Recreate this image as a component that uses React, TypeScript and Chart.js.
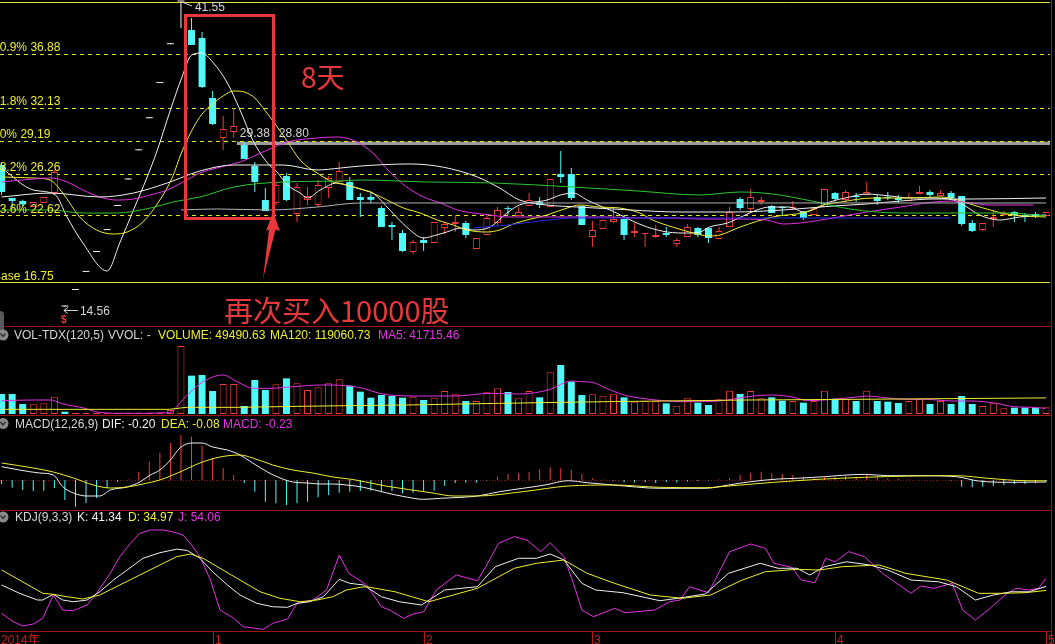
import React, { useEffect, useRef } from 'react';
import { Chart, registerables } from 'chart.js';

Chart.register(...registerables);

// ================= DATA =================
const OPEN = [
  27.08, 24.16, 23.9, 23.36, 23.72, 24.6, 14.56, 16.02, 17.62, 19.38,
  21.32, 23.45, 25.8, 28.38, 31.22, 34.34, 37.77, 41.55, 39.03, 38.32,
  33.01, 29.47, 30.0, 28.85, 27.0, 23.98, 23.72, 26.1, 22.74, 23.98,
  23.54, 25.04, 25.58, 25.58, 24.25, 24.25, 23.27, 21.77, 21.06, 19.38,
  20.44, 20.18, 21.5, 21.86, 21.95, 19.65, 20.89, 21.95, 23.27, 22.56,
  23.45, 23.8, 23.36, 26.28, 26.28, 23.45, 20.71, 21.41, 22.03, 22.3,
  21.06, 20.98, 20.71, 21.06, 20.09, 20.71, 21.5, 21.5, 20.53, 21.59,
  24.07, 23.18, 23.8, 23.45, 23.36, 23.23, 22.92, 22.65, 23.36, 24.6,
  23.98, 24.34, 24.42, 24.25, 24.25, 24.16, 23.89, 24.51, 24.69, 24.34,
  24.6, 24.34, 21.95, 21.33, 22.3, 22.65, 22.92, 22.65, 22.74, 22.56,
];
const HIGH = [
  27.35, 24.16, 24.0, 23.8, 24.25, 26.64, 14.56, 16.02, 17.62, 19.38,
  21.32, 23.45, 25.8, 28.38, 31.22, 34.34, 37.77, 41.55, 40.09, 38.85,
  33.63, 31.42, 32.12, 29.12, 27.35, 25.05, 25.49, 26.37, 25.49, 25.13,
  25.75, 26.1, 27.35, 26.02, 24.6, 24.6, 23.45, 22.03, 21.33, 20.44,
  20.71, 22.03, 22.03, 22.65, 22.12, 20.62, 22.65, 23.36, 23.45, 23.36,
  24.6, 24.25, 25.84, 28.32, 26.81, 23.45, 22.12, 22.21, 23.36, 22.65,
  21.95, 21.06, 21.77, 21.59, 20.62, 21.86, 21.59, 21.59, 21.59, 23.36,
  24.25, 24.95, 24.25, 23.54, 23.45, 23.89, 23.01, 23.27, 24.95, 24.69,
  24.87, 24.6, 25.58, 24.42, 24.69, 24.42, 24.6, 25.22, 24.87, 24.87,
  24.78, 24.34, 22.21, 21.95, 23.1, 23.01, 23.01, 22.83, 22.92, 22.92,
];
const LOW = [
  24.42, 23.36, 23.4, 23.36, 23.72, 24.5, 14.56, 16.02, 17.62, 19.38,
  21.32, 23.45, 25.8, 28.38, 31.22, 34.34, 37.77, 39.2, 37.7, 33.9,
  30.62, 28.41, 29.47, 27.61, 24.69, 23.0, 23.54, 23.9, 22.03, 23.54,
  23.36, 24.16, 25.58, 23.98, 22.47, 23.72, 21.59, 20.44, 19.38, 19.2,
  19.47, 20.18, 20.96, 21.15, 20.62, 19.65, 20.89, 21.77, 22.65, 22.56,
  23.45, 23.27, 23.36, 25.49, 23.98, 21.77, 19.82, 21.41, 21.95, 20.44,
  20.71, 19.82, 20.62, 20.71, 19.82, 20.71, 20.71, 20.18, 20.53, 21.59,
  23.1, 22.83, 23.54, 22.83, 22.65, 23.1, 22.21, 22.65, 23.36, 23.8,
  23.8, 23.8, 24.42, 23.54, 23.98, 23.72, 23.89, 24.51, 24.25, 24.34,
  24.16, 21.68, 21.15, 21.24, 21.59, 22.56, 22.03, 22.03, 22.39, 22.56,
];
const CLOSE = [
  24.69, 23.89, 23.6, 23.8, 24.25, 26.46, 14.56, 16.02, 17.62, 19.38,
  21.32, 23.45, 25.8, 28.38, 31.22, 34.34, 37.77, 41.55, 37.7, 33.98,
  30.71, 30.27, 30.53, 27.61, 25.58, 23.0, 25.31, 23.98, 25.13, 24.34,
  25.31, 25.93, 26.55, 23.98, 23.98, 24.0, 21.59, 21.59, 19.47, 20.27,
  20.18, 22.03, 21.86, 22.03, 20.89, 20.62, 22.39, 23.1, 23.18, 22.92,
  23.98, 23.54, 25.84, 26.02, 24.16, 21.77, 21.33, 22.21, 22.3, 20.89,
  21.24, 21.06, 20.89, 20.89, 20.44, 21.59, 20.89, 20.62, 21.24, 22.92,
  23.27, 24.25, 23.98, 22.83, 23.27, 23.36, 22.39, 23.27, 24.95, 24.07,
  24.69, 24.25, 24.69, 23.89, 24.16, 23.98, 24.25, 24.69, 24.42, 24.6,
  24.16, 21.86, 21.24, 21.95, 22.47, 22.83, 22.65, 22.47, 22.56, 22.92,
];
const VOLUME = [
  148000, 148000, 74000, 71500, 79000, 128300, 17300, 7400, 7400, 7400,
  7400, 7400, 7400, 7400, 7400, 7400, 29600, 503300, 283700, 288600,
  170200, 222000, 222000, 59200, 251600, 177600, 219600, 264000, 227000, 177600,
  197400, 227000, 256600, 209700, 165300, 120900, 140600, 133200, 120900, 128300,
  103600, 120900, 170200, 145600, 96200, 96200, 160400, 190000, 162800, 115900,
  170200, 123400, 308400, 362600, 239300, 140600, 145600, 135700, 145600, 123400,
  91300, 96200, 96200, 78900, 61700, 115900, 83900, 66600, 108500, 172700,
  148000, 170200, 115900, 123400, 98700, 96200, 83900, 96200, 172700, 113500,
  108500, 96200, 172700, 96200, 91300, 81400, 96200, 111000, 74000, 96200,
  74000, 133200, 74000, 59200, 78900, 41900, 46900, 46900, 46900, 49490.63,
];

// moving-average curves of the price panel: [day index, price]
const MA5_PTS = [
  [0, 26.82], [3.0, 24.87], [5.1, 24.43], [6.2, 22.48], [7.7, 20.18], [10.0, 17.7], [11.2, 20.18],
  [12.5, 23.1], [13.8, 26.02], [14.7, 28.23], [16.0, 31.95], [17.1, 34.87], [18.0, 36.81], [19.0, 36.99],
  [20.0, 36.2], [21.4, 34.34], [22.6, 31.95], [23.8, 29.29], [25.2, 27.26], [26.1, 26.46], [27.1, 25.31],
  [28.3, 24.6], [29.0, 24.16], [30.2, 24.87], [31.8, 25.49], [33.0, 25.22], [34.3, 24.87], [35.2, 24.6],
  [36.8, 23.1], [38.4, 21.59], [40.0, 20.62], [40.9, 20.8], [42.2, 21.15], [43.5, 21.5], [44.7, 21.33],
  [46.3, 21.59], [47.9, 22.83], [49.1, 23.54], [51.7, 23.98], [53.0, 24.43], [54.2, 24.6], [55.5, 23.98],
  [57.0, 23.36], [58.3, 22.83], [59.6, 22.21], [61.2, 21.59], [63.1, 21.15], [65.0, 21.06], [66.2, 21.15],
  [67.1, 21.59], [68.8, 21.95], [70.3, 22.57], [71.6, 23.1], [72.8, 23.36], [74.7, 23.36], [76.0, 22.92],
  [77.3, 23.27], [78.5, 23.8], [80.4, 24.25], [82.0, 24.51], [84.2, 24.34], [86.1, 24.16], [88.0, 24.16],
  [90.2, 23.98], [91.5, 23.36], [92.7, 22.66], [94.6, 22.21], [96.5, 22.48], [99, 22.66],
];
const MA10_PTS = [
  [0, 26.02], [3.0, 25.93], [4.6, 25.75], [5.8, 24.6], [7.4, 22.48], [9.0, 21.33], [10.6, 20.97],
  [11.9, 21.15], [13.4, 22.04], [15.0, 23.98], [16.2, 26.02], [17, 28.05], [18, 30.09], [19, 31.59],
  [20, 32.48], [21, 33.19], [22, 33.63], [23, 33.54], [24, 33.01], [25, 31.86], [26, 30.62], [27, 29.29],
  [28.3, 27.52], [29.9, 26.37], [31.4, 25.58], [32.7, 25.31], [34.9, 24.69], [36.5, 24.0], [38.1, 23.27],
  [39.7, 22.83], [41.3, 22.21], [42.8, 21.77], [44.1, 21.33], [46.0, 21.15], [47.2, 21.33], [48.5, 21.86],
  [49.8, 22.21], [51.7, 22.66], [53.6, 23.27], [54.8, 23.54], [56.7, 23.36], [58.6, 23.27], [60.5, 22.83],
  [61.7, 22.21], [63.6, 21.59], [65.2, 21.15], [67.1, 20.8], [68.1, 20.89], [70.0, 21.59], [73.1, 22.48],
  [76.3, 22.92], [77.9, 23.54], [79.5, 23.8], [82.6, 24.16], [85.8, 24.16], [89.0, 24.25], [90.6, 23.98],
  [92.1, 23.54], [93.7, 23.1], [95.3, 22.74], [96.8, 22.57], [99, 22.48],
];
const MA20_PTS = [
  [0, 25.58], [3.0, 25.84], [4.6, 25.93], [6.2, 25.58], [7.7, 24.87], [9.3, 24.25], [10.9, 23.98],
  [12.5, 24.07], [14.1, 24.43], [15.7, 24.87], [17.2, 25.58], [18.8, 26.37], [20.4, 26.81], [22.6, 27.35],
  [25.2, 28.41], [27.1, 29.12], [29.9, 29.47], [31.8, 29.56], [33.0, 29.38], [33.7, 29.12], [35.2, 28.14],
  [36.8, 26.46], [38.4, 25.13], [40.0, 24.25], [41.6, 23.72], [43.2, 23.1], [44.7, 22.83], [46.3, 22.66],
  [47.9, 22.48], [51.0, 22.48], [54.2, 22.48], [57.4, 22.48], [60.5, 22.39], [63.6, 22.39], [66.2, 22.3],
  [69.3, 22.3], [72.5, 22.21], [74.1, 21.86], [75.7, 21.95], [78.8, 22.39], [82.0, 22.92], [85.2, 23.36],
  [88.3, 23.8], [90.2, 23.89], [91.8, 23.72], [93.7, 23.54], [97.8, 23.54],
];
const MA30_PTS = [
  [0, 24.25], [4.6, 24.6], [9.3, 24.25], [12.5, 24.6], [15.7, 25.49], [18.8, 26.55], [22.0, 27.08],
  [26.7, 27.08], [29.9, 26.64], [32.1, 26.81], [34.0, 26.99], [38.7, 27.17], [41.8, 26.9], [45.1, 26.02],
  [47.2, 25.05], [49.1, 23.98], [51.7, 23.54], [54.6, 23.36], [59.6, 23.1], [64.2, 22.92], [69.3, 22.92],
  [74.1, 23.1], [78.8, 23.45], [82.0, 23.63], [85.2, 23.89], [88.3, 24.07], [91.8, 24.07], [99, 24.16],
];
const MA60_PTS = [
  [0, 23.1], [4.6, 23.1], [7.7, 22.83], [10.9, 22.83], [14.1, 23.27], [16.2, 23.8], [18.8, 24.25],
  [22.0, 25.13], [26.7, 25.58], [31.8, 25.66], [34.0, 25.75], [40.3, 25.58], [46.6, 25.49], [54.2, 25.13],
  [60, 24.8], [66.2, 24.43], [70.0, 24.69], [73.1, 24.51], [77.3, 23.8], [80.4, 23.19], [85.2, 22.83],
  [91.5, 22.83], [95.3, 22.83], [99, 22.57],
];
const MA120_PTS = [
  [17, 23.1], [20.4, 23.19], [25.4, 23.1], [29.9, 23.36], [34.0, 23.72], [49.1, 23.72], [66, 23.72], [99, 23.72],
];
const MA250_PTS = [
  [44.7, 21.5], [47.9, 21.77], [51.0, 22.12], [54.2, 22.39], [65, 22.39], [74, 22.39], [90, 22.39],
];

// volume panel averages
const VOL_MA5_PTS = [
  [0, 98700], [3.1, 103600], [4.7, 103600], [5.6, 78900], [7.9, 41900], [8.9, 17300], [11, 4900],
  [15.9, 9900], [16.6, 54300], [17.3, 115900], [19.1, 239300], [21, 288600], [22.3, 239300], [23.9, 190000],
  [25.4, 190000], [27.7, 202300], [30.3, 214600], [33.5, 202300], [36.7, 140600], [39.9, 133200],
  [43.1, 133200], [46.3, 153000], [49, 148000], [50.6, 157900], [52, 182600], [54, 244200], [54.9, 239300],
  [56, 234400], [57.3, 190000], [59, 140600], [60.7, 115900], [62.7, 98700], [64.7, 91300], [66.7, 91300],
  [68.8, 103600], [70.7, 128300], [73.1, 140600], [75.1, 123400], [76.4, 98700], [78.8, 108500],
  [80.8, 123400], [82.1, 133200], [83.4, 123400], [85.8, 108500], [87.5, 108500], [90.2, 96200],
  [91.9, 96200], [94.3, 78900], [95.9, 54300], [97.6, 49300], [99, 41715.46],
];
const VOL_MA120_PTS = [
  [0, 34500], [15.9, 34500], [17.5, 49300], [22.3, 49300], [30.3, 59200], [38.3, 66600],
  [47.2, 78900], [57.3, 91300], [70.7, 103600], [80.8, 108500], [99, 119060.73],
];

// MACD panel
const MACD_HIST = [
  -0.4, -0.77, -1.0, -1.1, -1.07, -0.8, -2.0, -2.67, -2.3, -1.8,
  -0.8, -0.2, 0.05, 0.83, 1.83, 2.73, 3.7, 4.5, 4.33, 3.4,
  2.2, 1.2, 0.5, -0.3, -1.17, -2.17, -2.33, -2.5, -2.33, -2.17,
  -1.73, -1.5, -1.27, -1.17, -1.1, -1.07, -1.17, -1.1, -1.33, -1.27,
  -1.17, -1.07, -0.6, -0.3, -0.27, -0.27, -0.05, 0.33, 0.6, 0.67,
  0.83, 1.07, 1.27, 1.17, 1.0, 0.6, 0.17, 0.05, -0.05, -0.2,
  -0.25, -0.2, -0.3, -0.2, -0.25, -0.15, -0.1, -0.05, 0.05, 0.2,
  0.5, 0.73, 0.83, 0.67, 0.6, 0.5, 0.33, 0.17, 0.33, 0.33,
  0.4, 0.33, 0.5, 0.33, 0.17, 0.1, 0.04, 0.03, 0.02, 0.01,
  -0.05, -0.67, -0.73, -0.67, -0.6, -0.5, -0.4, -0.4, -0.33, -0.23,
];
const DIF_PTS = [
  [0, 1.33], [1.7, 1.0], [3.6, 0.7], [4.9, 0.5], [5.8, -0.67], [6.8, -1.3], [8.1, -1.6], [9.3, -1.6],
  [10.3, -1.0], [11.9, -0.7], [13.1, -0.2], [14.1, 0.5], [15, 1.0], [16, 2.0], [16.9, 3.2], [18, 3.7],
  [19, 3.7], [20, 3.3], [21.4, 3.0], [22.6, 2.5], [23.8, 1.7], [25.2, 0.8], [26.4, 0.2], [27.6, -0.2],
  [29, -0.3], [30.2, -0.4], [31.4, -0.4], [32.7, -0.5], [34.3, -0.73], [36.4, -1.27], [38.5, -1.73],
  [40, -1.93], [41.6, -1.83], [45.1, -1.6], [47.2, -1.17], [49.4, -0.83], [51.5, -0.5], [53.7, -0.07],
  [55.5, -0.27], [58, -0.5], [62.4, -0.83], [66.7, -0.83], [68.9, -0.5], [71, -0.17], [73.6, 0.1],
  [75.4, 0.17], [78, 0.33], [79.7, 0.47], [81.8, 0.57], [84, 0.43], [87.4, 0.43], [90.5, 0.33],
  [92.6, -0.1], [95.7, -0.23], [99, -0.2],
];
const DEA_PTS = [
  [0, 1.7], [3, 1.2], [4.9, 0.8], [6.8, 0.2], [8.7, -0.5], [10.3, -0.8], [11.9, -0.7], [13.4, -0.4],
  [15, 0], [16.9, 0.8], [18.8, 1.7], [20.7, 2.3], [22.6, 2.5], [23.8, 2.2], [25.7, 1.5], [27.6, 1.0],
  [29.5, 0.7], [31.4, 0.3], [33.3, 0.05], [36.4, -0.6], [40.7, -1.27], [42.9, -1.6], [45.1, -1.6],
  [49.4, -1.17], [53.7, -0.6], [58, -0.5], [62.4, -0.73], [66.7, -0.77], [68.9, -0.6], [73.2, -0.23],
  [77.5, 0.07], [81.8, 0.27], [86.2, 0.4], [90.5, 0.43], [93.5, 0.17], [97, -0.07], [99, -0.08],
];

// KDJ panel
const K_PTS = [
  [0, 43.4], [1.7, 30.5], [3.4, 20.0], [3.9, 20.0], [4.9, 28.9], [5.8, 20.0], [6.8, 17.3], [8.1, 20.0],
  [9.3, 32.9], [10.6, 51.2], [11.9, 66.9], [13.4, 85.2], [15, 93.9], [16.6, 99.5], [17.6, 97.5],
  [18.8, 85.2], [20, 64.2], [21.4, 43.5], [22.6, 27.8], [24.2, 14.8], [25.7, 9.5], [27.1, 8.6],
  [28, 14.8], [29.2, 17.3], [30.5, 25.2], [32, 52.3], [33, 46.1], [34.3, 43.5], [36, 25.2], [37.7, 17.3],
  [39.8, 12.2], [42, 35.7], [45.1, 40.8], [46.8, 72.1], [49, 85.2], [50.7, 85.2], [52, 91.9], [53.3, 82.5],
  [55, 46.1], [56.3, 35.7], [58.9, 31.4], [62.4, 18.9], [64.1, 22.7], [66.7, 29.4], [68.9, 61.7],
  [71.9, 77.4], [73.6, 69.6], [75.4, 69.6], [76.6, 59.1], [78, 72.1], [80.1, 79.8], [82.3, 74.7],
  [84, 66.9], [86.2, 51.2], [88.8, 48.6], [90.5, 40.8], [92.3, 20.0], [94, 27.8], [95.7, 32.9],
  [97.4, 32.9], [99, 41.34],
];
const D_PTS = [
  [0, 66.9], [1.7, 51.2], [3.9, 30.5], [4.9, 28.9], [6.2, 25.2], [7.7, 21.6], [9.3, 27.8], [11.2, 43.5],
  [13.1, 59.1], [15, 74.7], [16.6, 87.7], [17.9, 91.9], [19.1, 85.2], [20.7, 69.6], [22.6, 51.2],
  [24.5, 32.9], [26.4, 22.7], [28.3, 17.3], [29.9, 20.0], [31.4, 25.2], [32.7, 35.7], [34.0, 39.8],
  [34.6, 40.8], [37.3, 32.9], [40.5, 17.3], [43.4, 30.5], [45.1, 38.3], [48.6, 69.6], [50.7, 77.4],
  [53.3, 82.5], [55.5, 61.7], [58.1, 46.1], [61.5, 27.8], [64.5, 22.7], [67.2, 27.8], [70.2, 51.2],
  [72.4, 64.2], [75.4, 68.0], [77.5, 66.9], [79.7, 72.1], [83.2, 74.7], [85.7, 61.7], [89.6, 51.2],
  [92.6, 30.5], [94.8, 30.5], [97.0, 31.4], [99, 34.97],
];
const J_PTS = [
  [0, -0.8], [1.1, -13.9], [2.0, -20.6], [3.0, -17.5], [3.9, -8.6], [4.9, 27.8], [5.8, 4.3], [6.8, 3.3],
  [8.1, 12.2], [9.0, 30.5], [10.3, 61.7], [11.2, 87.7], [12.2, 108.6], [13.1, 124.2], [14.1, 129.4],
  [15.3, 129.4], [16.2, 126.7], [17.2, 121.6], [18.0, 106.0], [18.8, 87.7], [19.8, 51.2], [20.7, 4.3],
  [22.0, -8.6], [22.9, -21.7], [24.8, -25.8], [25.7, -16.4], [27.1, -9.7], [28.0, 14.8], [29.5, 20.0],
  [30.8, 35.7], [32.0, 90.3], [32.9, 61.7], [34.6, 43.5], [36.0, 9.5], [36.8, 4.3], [38.1, -8.6],
  [39.0, -1.9], [40.0, 1.7], [41.2, 35.7], [43.1, 59.1], [45.1, 50.2], [45.9, 72.1], [47.1, 108.6],
  [48.6, 119.0], [49.8, 113.8], [51.1, 95.5], [52.0, 109.6], [53.3, 87.7], [54.2, 46.1], [55.0, 4.3],
  [56.1, -6.1], [58.1, 7.1], [59.1, 0.2], [61.9, 4.3], [63.3, 17.3], [64.3, 20.0], [65.2, 40.8],
  [67.0, 31.4], [69.0, 95.5], [71.0, 107.5], [72.4, 100.8], [73.2, 77.4], [74.9, 71.1], [75.8, 51.2],
  [77.1, 47.1], [78.1, 85.2], [79.0, 79.8], [80.3, 95.5], [81.8, 87.7], [83.5, 61.7], [86.2, 30.5],
  [87.1, 41.8], [88.4, 38.3], [90.1, 46.1], [91.1, 4.3], [92.3, -11.2], [93.5, 4.3], [95.3, 30.5],
  [96.2, 38.3], [97.4, 35.7], [98.3, 38.3], [99, 54.06],
];

// drawing tool levels / labels
const FIB_PCT = ['80.9%', '61.8%', '50%', '38.2%', '23.6%'];
const FIB_PRICE = [36.88, 32.13, 29.19, 26.26, 22.62];
const FIB_TOP = 41.55;
const FIB_BASE = 16.75;
const BAND_PRICES = [28.85, 29.15];
const BAND_START = 22.3;
const BAND_LABELS = ['29.38', '28.80'];
const MONTH_TICKS = [20, 40, 56, 79, 99];
const MONTH_LABELS = ['1', '2', '3', '4', '5'];
const YEAR_LABEL = '2014年';
const NOTE_DAYS = '8天';
const NOTE_BUY = '再次买入10000股';

// ================= LAYOUT / STYLE =================
const W = 1050;
const X_MIN = -0.1517;
const X_MAX = 99.374;
const MAIN = { top: 0, h: 326, min: 12.832, max: 41.683 };
const VOLP = { top: 326, h: 88, min: 0, max: 651200 };
const MACDP = { top: 416, h: 94, min: -3.0, max: 6.4 };
const KDJP = { top: 511, h: 120, min: -28.4, max: 159.1 };

const RED = '#f23c3c';
const CYAN = '#50f8f8';
const WHITE = '#f0f0f0';
const YELLOW = '#eeee30';
const MAGENTA = '#e432e4';
const GREEN = '#2cc82c';
const GRAY = '#b4b4b4';
const BLUE = '#2a2ae8';
const SEP = '#9c1414';
const ANNO = '#e8383c';
const LABEL = '#d6d6d6';
const LATIN = '"Liberation Sans", Arial, "Noto Sans CJK SC", sans-serif';
const CJK = '"Noto Sans CJK SC", "Noto Sans", sans-serif';

const px = (i: number) => ((i - X_MIN) / (X_MAX - X_MIN)) * W;
const py = (p: number) => MAIN.top + ((MAIN.max - p) / (MAIN.max - MAIN.min)) * MAIN.h;
const toXY = (pts: number[][]) => pts.map(([x, y]) => ({ x, y }));

function lineDs(pts: number[][], color: string, smooth: boolean) {
  return {
    type: 'line',
    data: toXY(pts),
    borderColor: color,
    borderWidth: 1,
    pointRadius: 0,
    fill: false,
    tension: smooth ? 0.4 : 0,
    cubicInterpolationMode: smooth ? 'monotone' : 'default',
    order: 0,
  };
}

function baseOptions(p: { min: number; max: number }) {
  return {
    animation: false,
    responsive: false,
    maintainAspectRatio: false,
    events: [],
    layout: { padding: 0 },
    plugins: { legend: { display: false }, tooltip: { enabled: false }, title: { display: false } },
    scales: {
      x: { type: 'linear', min: X_MIN, max: X_MAX, display: false, offset: false, grid: { display: false } },
      y: { type: 'linear', min: p.min, max: p.max, display: false, grid: { display: false } },
    },
  };
}

const fibPlugin = {
  id: 'fibLevels',
  beforeDatasetsDraw(chart: any) {
    const { ctx, chartArea, scales } = chart;
    const y = scales.y;
    const x = scales.x;
    ctx.save();
    const bx = x.getPixelForValue(BAND_START);
    const by0 = y.getPixelForValue(BAND_PRICES[1]);
    const by1 = y.getPixelForValue(BAND_PRICES[0]);
    ctx.fillStyle = '#9c9c9c';
    ctx.fillRect(bx, by0, chartArea.right - bx, by1 - by0);
    ctx.lineWidth = 1;
    ctx.strokeStyle = '#e6e628';
    ctx.setLineDash([4, 4]);
    FIB_PRICE.forEach((p) => {
      const yy = Math.round(y.getPixelForValue(p)) + 0.5;
      ctx.beginPath();
      ctx.moveTo(chartArea.left, yy);
      ctx.lineTo(chartArea.right, yy);
      ctx.stroke();
    });
    ctx.setLineDash([]);
    [FIB_TOP, FIB_BASE].forEach((p) => {
      const yy = Math.round(y.getPixelForValue(p)) + 0.5;
      ctx.beginPath();
      ctx.moveTo(chartArea.left, yy);
      ctx.lineTo(chartArea.right, yy);
      ctx.stroke();
    });
    ctx.restore();
  },
};

const zeroPlugin = {
  id: 'zeroLine',
  beforeDatasetsDraw(chart: any) {
    const { ctx, chartArea, scales } = chart;
    const yy = Math.round(scales.y.getPixelForValue(0)) + 0.5;
    ctx.save();
    ctx.strokeStyle = '#8a1212';
    ctx.setLineDash([1, 2]);
    ctx.beginPath();
    ctx.moveTo(chartArea.left, yy);
    ctx.lineTo(chartArea.right, yy);
    ctx.stroke();
    ctx.restore();
  },
};

function Txt(props: { x: number; cy: number; color: string; size?: number; cjk?: boolean; bold?: boolean; children: any }) {
  const size = props.size || 12;
  const top = props.cy - (props.cjk ? 0.556 : 0.49) * size;
  return (
    <span
      style={{
        position: 'absolute',
        left: props.x,
        top,
        fontSize: size,
        lineHeight: `${size}px`,
        color: props.color,
        whiteSpace: 'nowrap',
        fontFamily: props.cjk ? CJK : LATIN,
        fontWeight: props.bold ? 'bold' : 'normal',
      }}
    >
      {props.children}
    </span>
  );
}

const last = (pts: number[][]) => pts[pts.length - 1][1];

export default function App() {
  const mainRef = useRef<HTMLCanvasElement | null>(null);
  const volRef = useRef<HTMLCanvasElement | null>(null);
  const macdRef = useRef<HTMLCanvasElement | null>(null);
  const kdjRef = useRef<HTMLCanvasElement | null>(null);

  useEffect(() => {
    const idx = OPEN.map((_, i) => i);
    const doji = idx.map((i) => Math.abs(CLOSE[i] - OPEN[i]) < 0.005);
    const up = idx.map((i) => CLOSE[i] > OPEN[i]);
    const rising = idx.map(
      (i) => up[i] || (doji[i] && CLOSE[i] >= (i > 0 ? CLOSE[i - 1] : CLOSE[i]))
    );

    const charts: Chart[] = [];

    charts.push(
      new Chart(mainRef.current as HTMLCanvasElement, {
        type: 'bar',
        data: {
          datasets: [
            lineDs(MA250_PTS, BLUE, true),
            lineDs(MA120_PTS, GRAY, true),
            lineDs(MA60_PTS, GREEN, true),
            lineDs(MA30_PTS, WHITE, true),
            lineDs(MA20_PTS, MAGENTA, true),
            lineDs(MA10_PTS, YELLOW, true),
            lineDs(MA5_PTS, WHITE, true),
            {
              type: 'bar',
              data: idx.map((i) => ({ x: i, y: [OPEN[i], CLOSE[i]] })),
              barThickness: 7,
              grouped: false,
              minBarLength: 1,
              inflateAmount: 0,
              borderSkipped: false,
              backgroundColor: idx.map((i) => (doji[i] ? WHITE : up[i] ? '#000000' : CYAN)),
              borderColor: idx.map((i) => (doji[i] ? WHITE : up[i] ? RED : CYAN)),
              borderWidth: idx.map((i) => (!doji[i] && up[i] ? 1 : 0)),
              order: 1,
            },
            {
              type: 'bar',
              data: idx.map((i) => ({ x: i, y: [LOW[i], HIGH[i]] })),
              barThickness: 1,
              grouped: false,
              minBarLength: 1,
              inflateAmount: 0,
              borderWidth: 0,
              backgroundColor: idx.map((i) => (doji[i] ? WHITE : up[i] ? RED : CYAN)),
              order: 2,
            },
          ] as any,
        },
        options: baseOptions(MAIN) as any,
        plugins: [fibPlugin],
      })
    );

    charts.push(
      new Chart(volRef.current as HTMLCanvasElement, {
        type: 'bar',
        data: {
          datasets: [
            lineDs(VOL_MA120_PTS, YELLOW, false),
            lineDs(VOL_MA5_PTS, MAGENTA, true),
            {
              type: 'bar',
              data: idx.map((i) => ({ x: i, y: VOLUME[i] })),
              barThickness: 7,
              grouped: false,
              inflateAmount: 0,
              borderSkipped: false,
              backgroundColor: idx.map((i) => (rising[i] ? '#000000' : CYAN)),
              borderColor: idx.map((i) => (rising[i] ? RED : CYAN)),
              borderWidth: idx.map((i) => (rising[i] ? 1 : 0)),
              order: 1,
            },
          ] as any,
        },
        options: baseOptions(VOLP) as any,
      })
    );

    charts.push(
      new Chart(macdRef.current as HTMLCanvasElement, {
        type: 'bar',
        data: {
          datasets: [
            lineDs(DEA_PTS, YELLOW, true),
            lineDs(DIF_PTS, WHITE, true),
            {
              type: 'bar',
              data: idx.map((i) => ({ x: i, y: MACD_HIST[i] })),
              barThickness: 1,
              grouped: false,
              inflateAmount: 0,
              borderWidth: 0,
              backgroundColor: idx.map((i) => (MACD_HIST[i] >= 0 ? RED : CYAN)),
              order: 1,
            },
          ] as any,
        },
        options: baseOptions(MACDP) as any,
        plugins: [zeroPlugin],
      })
    );

    charts.push(
      new Chart(kdjRef.current as HTMLCanvasElement, {
        type: 'line',
        data: {
          datasets: [lineDs(D_PTS, YELLOW, false), lineDs(K_PTS, WHITE, false), lineDs(J_PTS, MAGENTA, false)] as any,
        },
        options: baseOptions(KDJP) as any,
      })
    );

    return () => charts.forEach((c) => c.destroy());
  }, []);

  const hiVal = Math.max(...HIGH);
  const hiIdx = HIGH.indexOf(hiVal);
  const loVal = Math.min(...LOW);
  const loIdx = LOW.indexOf(loVal);
  const hx = px(hiIdx);
  const lx = px(loIdx);
  const ly = py(loVal) + 4;
  const bandX = px(BAND_START);

  const icon = (cy: number) => (
    <g key={'ic' + cy}>
      <circle cx={3} cy={cy} r={5.5} fill="#8a8a8a" />
      <polyline points={`0.5,${cy - 1.5} 3,${cy + 1.5} 5.5,${cy - 1.5}`} fill="none" stroke="#2a2a2a" strokeWidth={1.2} />
    </g>
  );

  return (
    <div
      style={{
        position: 'fixed',
        left: 0,
        top: 0,
        width: 1055,
        height: 644,
        background: '#000000',
        overflow: 'hidden',
        fontFamily: LATIN,
      }}
    >
      <canvas ref={mainRef} width={W} height={MAIN.h} style={{ position: 'absolute', left: 0, top: MAIN.top }} />
      <canvas ref={volRef} width={W} height={VOLP.h} style={{ position: 'absolute', left: 0, top: VOLP.top }} />
      <canvas ref={macdRef} width={W} height={MACDP.h} style={{ position: 'absolute', left: 0, top: MACDP.top }} />
      <canvas ref={kdjRef} width={W} height={KDJP.h} style={{ position: 'absolute', left: 0, top: KDJP.top }} />

      <svg width={1055} height={644} style={{ position: 'absolute', left: 0, top: 0 }}>
        {[326.5, 415.5, 510.5, 631.5].map((y) => (
          <line key={'s' + y} x1={0} x2={1052} y1={y} y2={y} stroke={SEP} strokeWidth={1} />
        ))}
        <line x1={1051.5} x2={1051.5} y1={0} y2={644} stroke={SEP} strokeWidth={1} />
        {MONTH_TICKS.map((t) => (
          <line key={'t' + t} x1={Math.round(px(t)) + 0.5} x2={Math.round(px(t)) + 0.5} y1={631} y2={644} stroke="#b41818" />
        ))}
        <rect x={185.5} y={15.5} width={88} height={203} fill="none" stroke={ANNO} strokeWidth={3} />
        <polygon points="273,212 280,231 275.5,229.5 263,279 269,229.5 266,231" fill={ANNO} />
        <polyline points={`${hx + 1},2 ${hx + 11},6`} fill="none" stroke={LABEL} strokeWidth={1} />
        <line x1={lx - 1} x2={lx + 13} y1={ly} y2={ly} stroke={LABEL} strokeWidth={1} />
        <polyline points={`${lx + 3},${ly - 3} ${lx - 1},${ly} ${lx + 3},${ly + 3}`} fill="none" stroke={LABEL} strokeWidth={1} />
        <rect x={-8} y={311} width={12} height={22} rx={4} fill="#5a5a5a" />
        {icon(335)}
        {icon(423.5)}
        {icon(517)}
      </svg>

      {FIB_PRICE.map((p, k) => (
        <Txt key={'f' + k} x={-7} cy={py(p) - 7} color={YELLOW}>
          {FIB_PCT[k]} {p.toFixed(2)}
        </Txt>
      ))}
      <Txt x={-7} cy={py(FIB_BASE) - 6} color={YELLOW}>
        Base {FIB_BASE.toFixed(2)}
      </Txt>
      <Txt x={hx + 14} cy={6.5} color={LABEL}>
        {hiVal.toFixed(2)}
      </Txt>
      <Txt x={lx + 15} cy={ly} color={LABEL}>
        {loVal.toFixed(2)}
      </Txt>
      <Txt x={lx - 4} cy={320} color={ANNO} size={10} bold>
        $
      </Txt>
      <Txt x={bandX + 3} cy={132.5} color={LABEL}>
        {BAND_LABELS[0]}
      </Txt>
      <Txt x={bandX + 42} cy={132.5} color={LABEL}>
        {BAND_LABELS[1]}
      </Txt>
      <Txt x={301} cy={77.5} color={ANNO} size={28} cjk>
        {NOTE_DAYS}
      </Txt>
      <Txt x={224} cy={311} color={ANNO} size={29} cjk>
        {NOTE_BUY}
      </Txt>

      <Txt x={14} cy={335} color={LABEL}>VOL-TDX(120,5)</Txt>
      <Txt x={108} cy={335} color={LABEL}>VVOL: -</Txt>
      <Txt x={158} cy={335} color={YELLOW}>VOLUME: {VOLUME[VOLUME.length - 1].toFixed(2)}</Txt>
      <Txt x={270} cy={335} color={YELLOW}>MA120: {last(VOL_MA120_PTS).toFixed(2)}</Txt>
      <Txt x={378} cy={335} color={MAGENTA}>MA5: {last(VOL_MA5_PTS).toFixed(2)}</Txt>

      <Txt x={15} cy={423.5} color={LABEL}>MACD(12,26,9)</Txt>
      <Txt x={102} cy={423.5} color={WHITE}>DIF: {last(DIF_PTS).toFixed(2)}</Txt>
      <Txt x={161} cy={423.5} color={YELLOW}>DEA: {last(DEA_PTS).toFixed(2)}</Txt>
      <Txt x={223} cy={423.5} color={MAGENTA}>MACD: {MACD_HIST[MACD_HIST.length - 1].toFixed(2)}</Txt>

      <Txt x={15} cy={517} color={LABEL}>KDJ(9,3,3)</Txt>
      <Txt x={77} cy={517} color={WHITE}>K: {last(K_PTS).toFixed(2)}</Txt>
      <Txt x={128} cy={517} color={YELLOW}>D: {last(D_PTS).toFixed(2)}</Txt>
      <Txt x={178} cy={517} color={MAGENTA}>J: {last(J_PTS).toFixed(2)}</Txt>

      <Txt x={1} cy={639.5} color="#c82020">{YEAR_LABEL}</Txt>
      {MONTH_TICKS.map((t, k) => (
        <Txt key={'m' + t} x={Math.round(px(t)) + 2} cy={639.5} color="#c82020">
          {MONTH_LABELS[k]}
        </Txt>
      ))}
    </div>
  );
}
